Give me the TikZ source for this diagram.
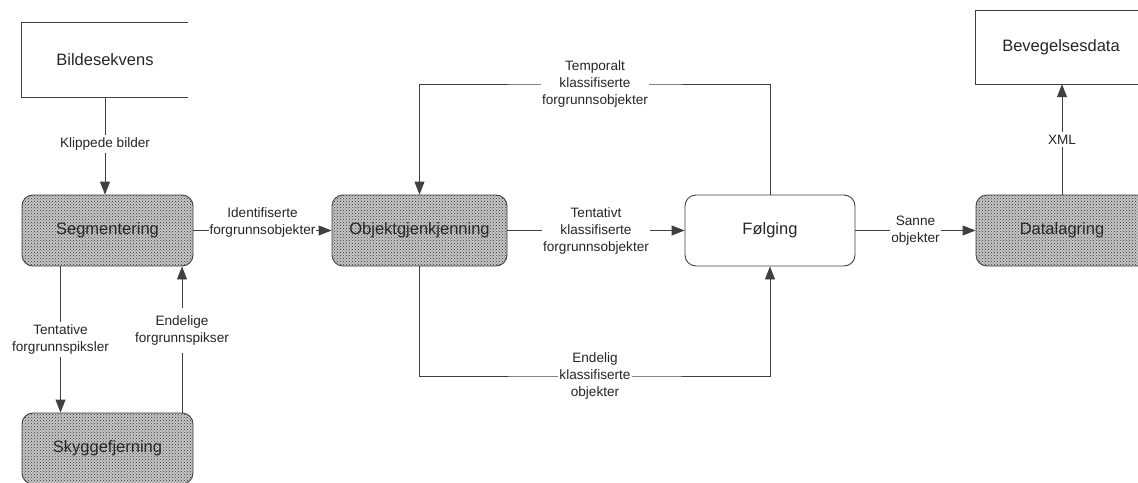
\documentclass[tikz,border=0pt]{standalone}
\usepackage{fontspec}
\setmainfont{Liberation Sans}
\usetikzlibrary{arrows.meta,patterns}

\begin{document}
\begin{tikzpicture}[x=1pt, y=-1pt,
    line/.style={draw=black!75, line width=0.9pt},
    flow/.style={line, -{Triangle[length=13pt,width=10pt]}},
    store/.style={minimum width=166pt, minimum height=74pt, inner sep=0pt,
      font=\fontsize{16.5}{20}\selectfont, text=black!85},
    proc/.style={line, rounded corners=11pt, minimum height=71pt,
      font=\fontsize{16.5}{20}\selectfont, text=black!85,
      preaction={fill=gray!45}, pattern=crosshatch dots, pattern color=black!80},
    plain/.style={line, rounded corners=11pt, minimum width=170pt, minimum height=71pt,
      font=\fontsize{16.5}{20}\selectfont, text=black!85},
    lbl/.style={fill=white, align=center, inner xsep=1pt, inner ysep=3pt,
      font=\fontsize{13.6}{17}\selectfont, text=black!85}]
        % Define bounding box
        \useasboundingbox (0,0) rectangle (1138,482);

        % Define coordinates
        \coordinate (looptop) at (595, 84);
        \coordinate (loopbot) at (595, 376);

        % Data stores (open on the right)
        \node[store] (bilde) at (105, 60) {Bildesekvens};
        \draw[line] (bilde.north east) -- (bilde.north west) -- (bilde.south west) -- (bilde.south east);
        \node[store, minimum width=162pt, minimum height=73pt] (bevegelse) at (1057, 47.5) {\hspace{8pt}Bevegelsesdata};
        \draw[line] (bevegelse.north east) -- (bevegelse.north west) -- (bevegelse.south west) -- (bevegelse.south east);

        % Processes
        \node[proc, minimum width=171pt] (segm) at (107.5, 230.5) {Segmentering};
        \node[proc, minimum width=171pt] (skygge) at (107.5, 448.5) {Skyggefjerning};
        \node[proc, minimum width=175pt] (objekt) at (419.5, 230.5) {Objektgjenkjenning};
        \node[plain] (folg) at (770, 230.5) {Følging};
        \node[proc, minimum width=172pt] (datalag) at (1062, 230.5) {Datalagring};

        % Flows between the boxes
        \draw[flow] (bilde.south) -- node[lbl, pos=0.48] {Klippede bilder} (bilde.south |- segm.north);
        \draw[flow] (segm.east) -- node[lbl, yshift=8pt] {Identifiserte\\forgrunnsobjekter} (objekt.west);
        \draw[flow] ([xshift=-47pt]segm.south) -- node[lbl] {Tentative\\forgrunnspiksler} ([xshift=-47pt]skygge.north);
        \draw[flow] ([xshift=74.5pt]skygge.north) -- node[lbl, yshift=9pt, inner ysep=8pt] {Endelige\\forgrunnspikser} ([xshift=74.5pt]segm.south);
        \draw[flow] (objekt.east) -- node[lbl] {Tentativt\\klassifiserte\\forgrunnsobjekter} (folg.west);
        \draw[flow] (folg.north) |- (looptop) -| (objekt.north);
        \node[lbl] at (looptop) {Temporalt\\klassifiserte\\forgrunnsobjekter};
        \draw[flow] (objekt.south) |- (loopbot) -| (folg.south);
        \node[lbl, inner ysep=1pt] at (loopbot) {Endelig\\klassifiserte\\objekter};
        \draw[flow] (folg.east) -- node[lbl] {Sanne\\objekter} (datalag.west);
        \draw[flow] (datalag.north) -- node[lbl] {XML} (datalag.north |- bevegelse.south);
      \end{tikzpicture}
\end{document}
